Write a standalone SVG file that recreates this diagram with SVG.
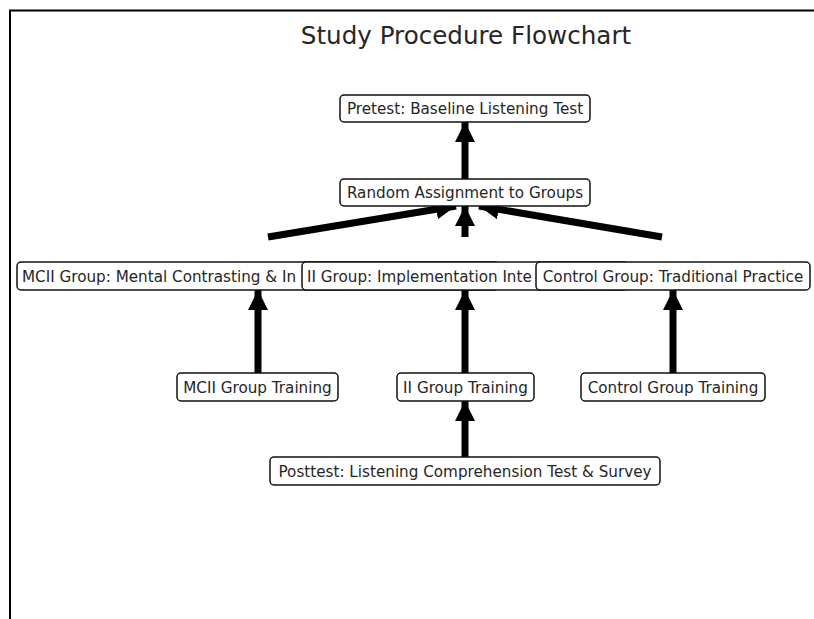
<svg xmlns="http://www.w3.org/2000/svg" width="814" height="619" viewBox="0 0 814 619">
<defs>
<style>
.node rect{fill:#fff;stroke:#111;stroke-width:1.5}
.node text{font-family:"DejaVu Sans",sans-serif;font-size:15.2px;fill:#262626;text-anchor:middle}
.title{font-family:"DejaVu Sans",sans-serif;font-size:24.6px;fill:#262626;text-anchor:middle}
.edge{stroke:#000;stroke-width:7;fill:none;marker-end:url(#ah)}
</style>
<marker id="ah" viewBox="0 0 10 10" refX="10" refY="5" markerUnits="userSpaceOnUse" markerWidth="20" markerHeight="20" orient="auto">
<path d="M0,0 L10,5 L0,10 Z" fill="#000"/>
</marker>
</defs>
<rect width="814" height="619" fill="#fff"/>
<path d="M10,619 V10.5 H814" fill="none" stroke="#000" stroke-width="2"/>
<text class="title" x="466" y="44">Study Procedure Flowchart</text>
<g id="connectors">
<line class="edge" x1="465" y1="179" x2="465" y2="122"/>
<line class="edge" x1="268" y1="237" x2="456" y2="206"/>
<line class="edge" x1="465" y1="237" x2="465" y2="206"/>
<line class="edge" x1="662" y1="237" x2="479" y2="206"/>
<line class="edge" x1="258" y1="373" x2="258" y2="290"/>
<line class="edge" x1="465" y1="373" x2="465" y2="290"/>
<line class="edge" x1="673" y1="373" x2="673" y2="290"/>
<line class="edge" x1="465" y1="457" x2="465" y2="401"/>
</g>
<g id="pretest" class="node"><rect x="340" y="95" width="250" height="27" rx="4"/><text x="465" y="114">Pretest: Baseline Listening Test</text></g>
<g id="random" class="node"><rect x="340" y="179" width="250" height="27" rx="4"/><text x="465" y="198">Random Assignment to Groups</text></g>
<g id="mcii" class="node"><rect x="17" y="262" width="482" height="28" rx="4"/><text x="22" y="282" style="text-anchor:start">MCII Group: Mental Contrasting &amp; In</text></g>
<g id="ii" class="node"><rect x="302" y="262" width="326" height="28" rx="4"/><text x="307" y="282" style="text-anchor:start">II Group: Implementation Inte</text></g>
<g id="control" class="node"><rect x="536" y="262" width="274" height="28" rx="4"/><text x="673" y="282">Control Group: Traditional Practice</text></g>
<g id="mcii_training" class="node"><rect x="177" y="373" width="161" height="28" rx="4"/><text x="257.5" y="393">MCII Group Training</text></g>
<g id="ii_training" class="node"><rect x="397" y="373" width="137" height="28" rx="4"/><text x="465.5" y="393">II Group Training</text></g>
<g id="control_training" class="node"><rect x="581" y="373" width="184" height="28" rx="4"/><text x="673" y="393">Control Group Training</text></g>
<g id="posttest" class="node"><rect x="270" y="457" width="390" height="28" rx="4"/><text x="465" y="477">Posttest: Listening Comprehension Test &amp; Survey</text></g>
</svg>
